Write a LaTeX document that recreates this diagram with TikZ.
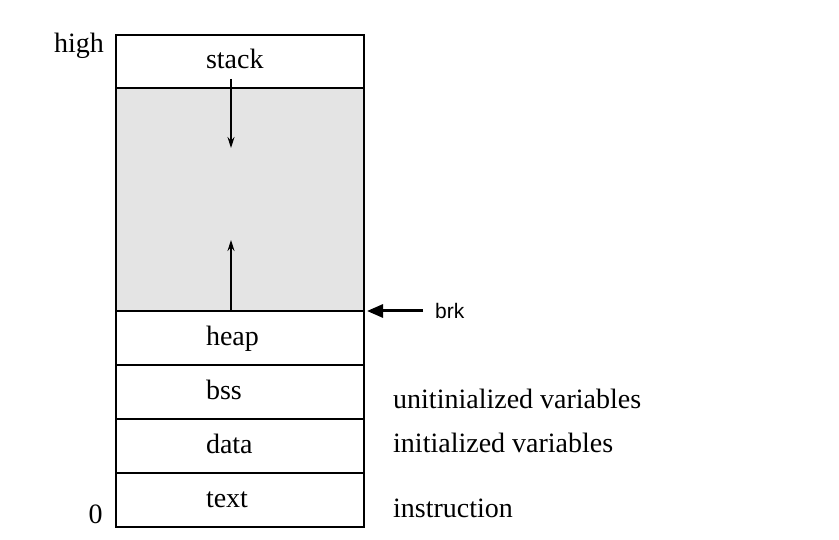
\documentclass[tikz,border=0pt]{standalone}
\usepackage{fontspec}
\setmainfont{Liberation Serif}
\newfontfamily\brkfont{Liberation Sans}
\usetikzlibrary{positioning,arrows.meta}
\definecolor{freegray}{RGB}{228,228,228}

\begin{document}
\begin{tikzpicture}[
    x=1pt, y=1pt,
    node distance=0pt,
    cell/.style={rectangle, draw=black, line width=1.3pt, minimum width=248pt, minimum height=54pt, inner sep=0pt, outer sep=0pt, text width=68pt, align=left, text height=20pt, text depth=5pt, font=\fontsize{28}{32}\selectfont},
    side/.style={anchor=base west, inner sep=0pt, font=\fontsize{28}{32}\selectfont},
    growarrow/.style={-{Stealth[length=11pt, width=7pt]}, line width=1.3pt},
    brkarrow/.style={-{Triangle[length=16pt, width=13pt]}, line width=3pt}
]
    \useasboundingbox (0,0) rectangle (839,539);
    \node[cell, minimum height=53pt] (stack) at (240,477.5) {stack};
    \node[cell, fill=freegray, minimum height=223pt, below=of stack] (free) {};
    \node[cell, below=of free] (heap) {heap};
    \node[cell, below=of heap] (bss) {bss};
    \node[cell, below=of bss] (data) {data};
    \node[cell, below=of data] (text) {text};

    \node[side, anchor=base] (high) at (79,486) {high};
    \node[side, anchor=base] (zero) at (95.5,16) {0};
    \node[side] (bsslabel) at (393,131) {unitinialized variables};
    \node[side] (datalabel) at (393,86) {initialized variables};
    \node[side] (textlabel) at (393,22) {instruction};

    \coordinate (stackbase) at ([xshift=-9pt, yshift=9pt]stack.south);
    \coordinate (stacktip) at ([xshift=-9pt, yshift=-60pt]free.north);
    \coordinate (heapbase) at ([xshift=-9pt]free.south);
    \coordinate (heaptip) at ([xshift=-9pt, yshift=71pt]free.south);
    \draw[growarrow] (stackbase) -- (stacktip);
    \draw[growarrow] (heapbase) -- (heaptip);

    \node[anchor=west, inner xsep=12pt, inner ysep=0pt, font=\brkfont\fontsize{21}{24}\selectfont] (brk) at (423,228) {brk};
    \draw[brkarrow, shorten >=3pt] (brk.west) -- (free.south east);
\end{tikzpicture}
\end{document}
